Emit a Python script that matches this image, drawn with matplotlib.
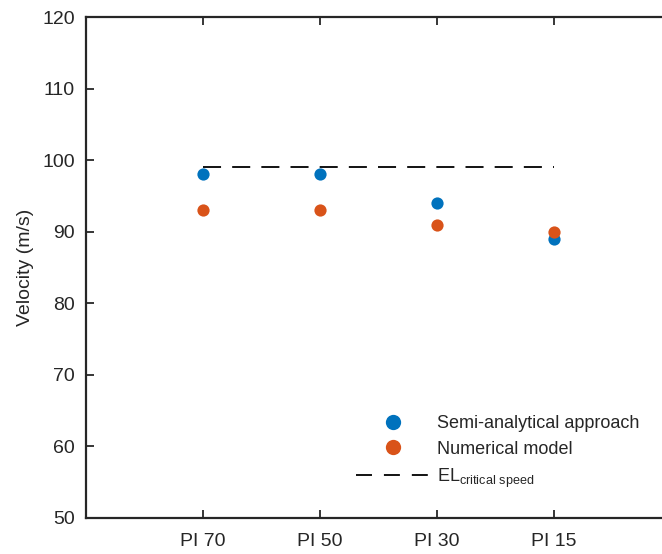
import matplotlib.pyplot as plt
from matplotlib.lines import Line2D

plt.rcParams['font.family'] = ['Liberation Sans', 'DejaVu Sans']
plt.rcParams['mathtext.fontset'] = 'custom'
plt.rcParams['mathtext.rm'] = 'Liberation Sans'

# data
categories = ["PI 70", "PI 50", "PI 30", "PI 15"]
semi_analytical = [98, 98, 94, 89]
numerical = [93, 93, 91, 90]
el_critical = 99

blue = "#0072BD"
orange = "#D95319"
axis_col = "#262626"

W, H = 662, 554
fig = plt.figure(figsize=(W / 100, H / 100), dpi=100)
ax = fig.add_axes([86 / W, 1 - 518 / H, (671 - 86) / W, (518 - 17) / H])

x = list(range(1, len(categories) + 1))
lw = 1.3
ax.plot(x, [el_critical] * len(x), color="black", lw=lw, dashes=(13 / lw, 8 / lw),
        label=r"EL$_{\mathrm{critical\ speed}}$", zorder=2)
ax.plot(x, semi_analytical, "o", color=blue, ms=8.8, mec="none",
        label="Semi-analytical approach", zorder=3)
ax.plot(x, numerical, "o", color=orange, ms=8.8, mec="none",
        label="Numerical model", zorder=4)

ax.set_xlim(0, 5)
ax.set_ylim(50, 120)
ax.set_xticks(x)
ax.set_xticklabels(categories)
ax.set_yticks(range(50, 121, 10))
ax.tick_params(direction="in", length=6, width=1.3, color=axis_col,
               labelcolor=axis_col, labelsize=14, top=True, right=True)
ax.tick_params(axis="y", pad=8)
ax.tick_params(axis="x", pad=11)
for s in ax.spines.values():
    s.set_linewidth(1.6)
    s.set_color(axis_col)
ax.set_ylabel("Velocity (m/s)", fontsize=14, color=axis_col, labelpad=6)

# legend handles drawn separately (the dashed one gets three dashes like the original)
handles = [
    Line2D([], [], ls="none", marker="o", color=blue, ms=11, mec="none"),
    Line2D([], [], ls="none", marker="o", color=orange, ms=11, mec="none"),
    Line2D([], [], color="black", lw=lw, dashes=(11.5 / lw, 8.6 / lw)),
]
labels = ["Semi-analytical approach", "Numerical model", r"EL$_{\mathrm{critical\ speed}}$"]
leg = fig.legend(handles, labels, loc="upper left", frameon=False, fontsize=13,
                 bbox_to_anchor=(347 / W, 1 - 406 / H), handlelength=4.1,
                 handletextpad=0.37, labelspacing=0.48, borderpad=0)
for t in leg.get_texts():
    t.set_color(axis_col)

fig.savefig("out.png", dpi=100)
